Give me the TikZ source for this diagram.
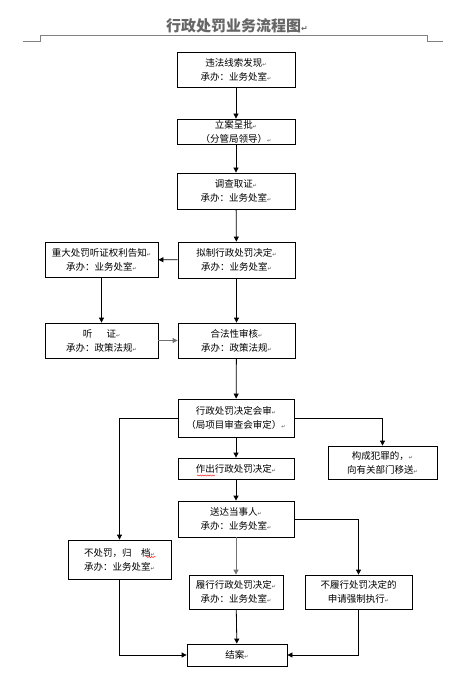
\documentclass[tikz,border=0pt]{standalone}
\usepackage{fontspec}
\setmainfont{Noto Sans CJK SC}
\newfontfamily\dejavu{DejaVu Sans}
\usetikzlibrary{arrows.meta,decorations.pathmorphing}
\newcommand{\pmk}{{\fontsize{5}{5}\selectfont\dejavu\color{black!70}↵}}
\begin{document}
\begin{tikzpicture}[x=1pt,y=-1pt,
  box/.style={draw=black,line width=0.8pt,align=center,inner sep=0pt,
    font=\fontsize{9.5}{14}\selectfont},
  arr/.style={line width=0.8pt,-{Triangle[width=5pt,length=5pt]}},
  garr/.style={arr,draw=black!55},
  squig/.style={draw=red,line width=0.4pt,decorate,decoration={snake,amplitude=0.6pt,segment length=2.5pt}}]
\useasboundingbox (0,0) rectangle (467,684);
% title and header rule
\node[font=\fontsize{15}{15}\selectfont\bfseries,text=black!60] (title) at (237,26) {行政处罚业务流程图{\fontsize{8}{8}\selectfont\dejavu ↵}};
\draw[black!50,line width=0.8pt] (23,41) -- (40,41) -- (40,35) -- (427,35) -- (427,41) -- (443,41);
% boxes
\node[box,minimum width=118pt,minimum height=35pt] (n1) at (236,69.5) {违法线索发现\pmk\\承办：业务处室\pmk};
\node[box,minimum width=118pt,minimum height=25pt] (n2) at (236,131.5) {立案呈批\pmk\\（分管局领导）\pmk};
\node[box,minimum width=118pt,minimum height=36pt] (n3) at (236,191) {调查取证\pmk\\承办：业务处室\pmk};
\node[box,minimum width=117pt,minimum height=36pt] (n4) at (236.5,260) {拟制行政处罚决定\pmk\\承办：业务处室\pmk};
\node[box,minimum width=113pt,minimum height=35pt] (n5) at (101.5,259.5) {重大处罚听证权利告知\pmk\\承办：业务处室\pmk};
\node[box,minimum width=113pt,minimum height=35pt] (n6) at (101.5,340.5) {听\hspace{1.5em}证\pmk\\承办：政策法规\pmk};
\node[box,minimum width=117pt,minimum height=35pt] (n7) at (236.5,340.5) {合法性审核\pmk\\承办：政策法规\pmk};
\node[box,minimum width=116pt,minimum height=38pt] (n8) at (236,418) {行政处罚决定会审\pmk\\（局项目审查会审定）\pmk};
\node[box,minimum width=116pt,minimum height=21pt] (n9) at (236,468.5) {作出行政处罚决定\pmk};
\node[box,minimum width=109pt,minimum height=33pt] (n10) at (382.5,462.5) {构成犯罪的，\pmk\\向有关部门移送\pmk};
\node[box,minimum width=116pt,minimum height=36pt] (n11) at (236,519) {送达当事人\pmk\\承办：业务处室\pmk};
\node[box,minimum width=103pt,minimum height=39pt] (n12) at (119.5,559.5) {不处罚，归　档\pmk\\承办：业务处室\pmk};
\node[box,minimum width=94pt,minimum height=34pt] (n13) at (236,592) {履行行政处罚决定\pmk\\承办：业务处室\pmk};
\node[box,minimum width=107pt,minimum height=34pt] (n14) at (358.5,592) {不履行处罚决定的\\申请强制执行\pmk};
\node[box,minimum width=100pt,minimum height=22pt] (n15) at (237,655) {结案\pmk};
% spell-check marks
\coordinate (s1a) at (197,475.5); \coordinate (s1b) at (215,475.5);
\draw[squig] (s1a) -- (s1b);
\coordinate (s2a) at (146,557); \coordinate (s2b) at (156,557);
\draw[squig] (s2a) -- (s2b);
% connectors
\draw[arr] (n1) -- (n2);
\draw[arr] (n2) -- (n3);
\draw[arr] (n3) -- (n4);
\draw[arr] (n4) -- (n5);
\draw[arr] (n5) -- (n6);
\draw[garr] (n6) -- (n7);
\draw[arr] (n4) -- (n7);
\draw[arr] (n7) -- (n8);
\draw[arr] (n8.west) -| (n12.north);
\draw[arr] (n8.east) -| (n10.north);
\draw[arr] (n8) -- (n9);
\draw[arr] (n9) -- (n11);
\draw[arr] (n11.east) -| (n14.north);
\draw[garr] (n11) -- (n13);
\draw[arr] (n12.south) |- (n15.west);
\draw[arr] (n13) -- (n15);
\draw[arr] (n14.south) |- (n15.east);
\end{tikzpicture}
\end{document}
